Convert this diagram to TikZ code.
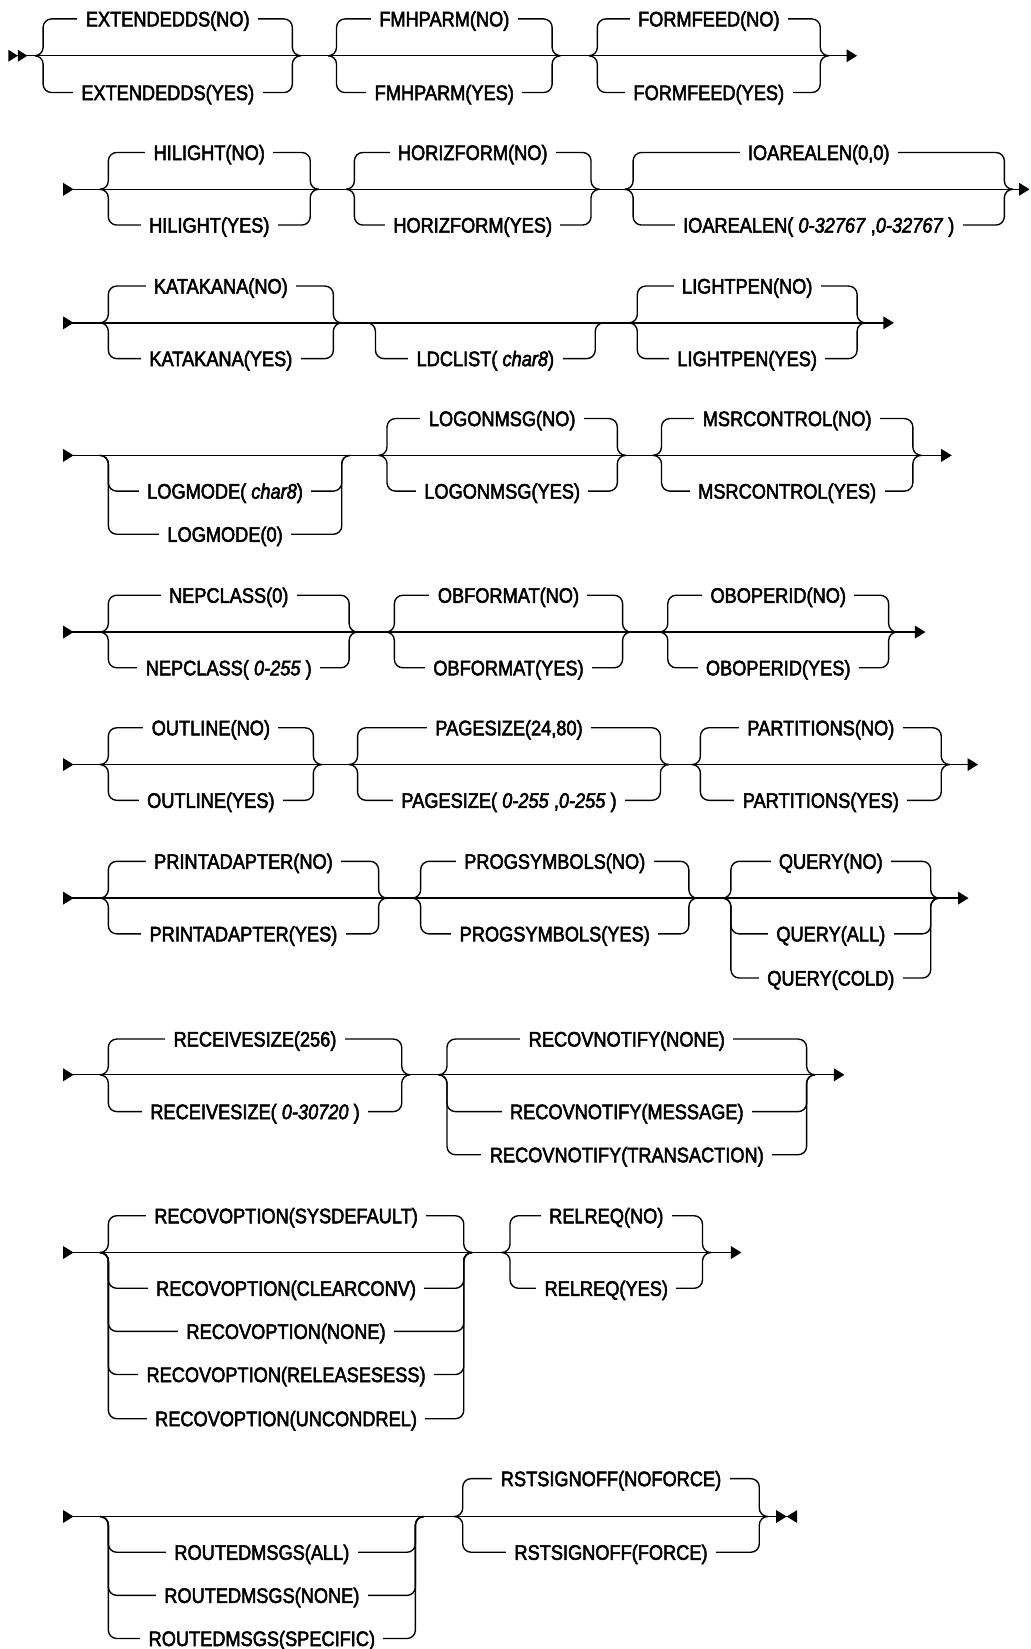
\documentclass[tikz,border=0pt]{standalone}
\usepackage{fontspec}
\setmainfont{Liberation Sans}[FakeStretch=0.865, FakeBold=2.5]
\usetikzlibrary{calc,arrows.meta}

% group: id, left x, right x, main line y
\newcommand{\railgroup}[4]{%
  \coordinate (#1_L) at (#2,#4);
  \coordinate (#1_R) at (#3,#4);
  \coordinate (#1_in) at ({#2-8},#4);
  \coordinate (#1_out) at ({#3+8},#4);
  \coordinate (#1_c) at ({(#2+#3)/2},#4);
}
% option: group id, node name, offset from main line, text
\newcommand{\railopt}[4]{%
  \coordinate (#2_y) at ($(#1_c)+(0,#3)$);
  \draw[rail] (#1_in) -| (#1_L |- #2_y) -- (#1_R |- #2_y) |- (#1_out);
  \node[opt] (#2) at (#2_y) {#4};
}

\begin{document}
\begin{tikzpicture}[
        x=1pt, y=-1pt,
        font=\fontsize{20}{24}\selectfont,
        rail/.style={line width=1.3pt, rounded corners=8pt},
        opt/.style={fill=white, inner xsep=8pt, inner ysep=2pt, text height=14.3pt, text depth=0pt},
        mainline/.style={rail, arrows={{Triangle[reversed,length=10pt,width=12pt]}-{Triangle[length=10pt,width=12pt]}}}
    ]
        \useasboundingbox (0,0) rectangle (980,1568);

        % Row 1
        \coordinate (s1) at (8,53);
        \coordinate (e1) at (815,53);
        \draw[rail, arrows={{Triangle[reversed,length=9pt,width=11pt]Triangle[reversed,length=9pt,width=11pt]}-{Triangle[length=10pt,width=12pt]}}] (s1) -- (e1);
        \railgroup{extdds}{41}{278}{53}
        \railopt{extdds}{extdds_no}{-35}{EXTENDEDDS(NO)}
        \railopt{extdds}{extdds_yes}{35}{EXTENDEDDS(YES)}
        \railgroup{fmhparm}{320}{525}{53}
        \railopt{fmhparm}{fmhparm_no}{-35}{FMHPARM(NO)}
        \railopt{fmhparm}{fmhparm_yes}{35}{FMHPARM(YES)}
        \railgroup{formfeed}{568}{780}{53}
        \railopt{formfeed}{formfeed_no}{-35}{FORMFEED(NO)}
        \railopt{formfeed}{formfeed_yes}{35}{FORMFEED(YES)}

        % Row 2
        \coordinate (s2) at (60,180);
        \coordinate (e2) at (979,180);
        \draw[mainline] (s2) -- (e2);
        \railgroup{hilight}{103}{295}{180}
        \railopt{hilight}{hilight_no}{-35}{HILIGHT(NO)}
        \railopt{hilight}{hilight_yes}{34}{HILIGHT(YES)}
        \railgroup{horizform}{337}{562}{180}
        \railopt{horizform}{horizform_no}{-35}{HORIZFORM(NO)}
        \railopt{horizform}{horizform_yes}{34}{HORIZFORM(YES)}
        \railgroup{ioarealen}{602}{955}{180}
        \railopt{ioarealen}{ioarealen_def}{-35}{IOAREALEN(0,0)}
        \railopt{ioarealen}{ioarealen_val}{34}{IOAREALEN( \textit{0-32767} ,\textit{0-32767} )}

        % Row 3
        \coordinate (s3) at (60,307);
        \coordinate (e3) at (850,307);
        \draw[mainline] (s3) -- (e3);
        \railgroup{katakana}{103}{317}{307}
        \railopt{katakana}{katakana_no}{-35}{KATAKANA(NO)}
        \railopt{katakana}{katakana_yes}{34}{KATAKANA(YES)}
        \railgroup{ldclist}{357}{566}{307}
        \railopt{ldclist}{ldclist_val}{34}{LDCLIST( \textit{char8})}
        \railgroup{lightpen}{606}{815}{307}
        \railopt{lightpen}{lightpen_no}{-35}{LIGHTPEN(NO)}
        \railopt{lightpen}{lightpen_yes}{34}{LIGHTPEN(YES)}

        % Row 4
        \coordinate (s4) at (60,433);
        \coordinate (e4) at (905,433);
        \draw[mainline] (s4) -- (e4);
        \railgroup{logmode}{103}{325}{433}
        \railopt{logmode}{logmode_val}{34}{LOGMODE( \textit{char8})}
        \railopt{logmode}{logmode_zero}{75}{LOGMODE(0)}
        \railgroup{logonmsg}{368}{587}{433}
        \railopt{logonmsg}{logonmsg_no}{-35}{LOGONMSG(NO)}
        \railopt{logonmsg}{logonmsg_yes}{34}{LOGONMSG(YES)}
        \railgroup{msrcontrol}{629}{868}{433}
        \railopt{msrcontrol}{msrcontrol_no}{-35}{MSRCONTROL(NO)}
        \railopt{msrcontrol}{msrcontrol_yes}{34}{MSRCONTROL(YES)}

        % Row 5
        \coordinate (s5) at (60,601);
        \coordinate (e5) at (880,601);
        \draw[mainline] (s5) -- (e5);
        \railgroup{nepclass}{103}{332}{601}
        \railopt{nepclass}{nepclass_def}{-35}{NEPCLASS(0)}
        \railopt{nepclass}{nepclass_val}{34}{NEPCLASS( \textit{0-255} )}
        \railgroup{obformat}{375}{592}{601}
        \railopt{obformat}{obformat_no}{-35}{OBFORMAT(NO)}
        \railopt{obformat}{obformat_yes}{34}{OBFORMAT(YES)}
        \railgroup{oboperid}{635}{845}{601}
        \railopt{oboperid}{oboperid_no}{-35}{OBOPERID(NO)}
        \railopt{oboperid}{oboperid_yes}{34}{OBOPERID(YES)}

        % Row 6
        \coordinate (s6) at (60,727);
        \coordinate (e6) at (930,727);
        \draw[mainline] (s6) -- (e6);
        \railgroup{outline}{103}{298}{727}
        \railopt{outline}{outline_no}{-35}{OUTLINE(NO)}
        \railopt{outline}{outline_yes}{34}{OUTLINE(YES)}
        \railgroup{pagesize}{340}{628}{727}
        \railopt{pagesize}{pagesize_def}{-35}{PAGESIZE(24,80)}
        \railopt{pagesize}{pagesize_val}{34}{PAGESIZE( \textit{0-255} ,\textit{0-255} )}
        \railgroup{partitions}{666}{895}{727}
        \railopt{partitions}{partitions_no}{-35}{PARTITIONS(NO)}
        \railopt{partitions}{partitions_yes}{34}{PARTITIONS(YES)}

        % Row 7
        \coordinate (s7) at (60,854);
        \coordinate (e7) at (921,854);
        \draw[mainline] (s7) -- (e7);
        \railgroup{printadapter}{103}{360}{854}
        \railopt{printadapter}{printadapter_no}{-35}{PRINTADAPTER(NO)}
        \railopt{printadapter}{printadapter_yes}{34}{PRINTADAPTER(YES)}
        \railgroup{progsymbols}{400}{655}{854}
        \railopt{progsymbols}{progsymbols_no}{-35}{PROGSYMBOLS(NO)}
        \railopt{progsymbols}{progsymbols_yes}{34}{PROGSYMBOLS(YES)}
        \railgroup{query}{695}{885}{854}
        \railopt{query}{query_no}{-35}{QUERY(NO)}
        \railopt{query}{query_all}{34}{QUERY(ALL)}
        \railopt{query}{query_cold}{76}{QUERY(COLD)}

        % Row 8
        \coordinate (s8) at (60,1022);
        \coordinate (e8) at (803,1022);
        \draw[mainline] (s8) -- (e8);
        \railgroup{recvsize}{103}{382}{1022}
        \railopt{recvsize}{recvsize_def}{-34}{RECEIVESIZE(256)}
        \railopt{recvsize}{recvsize_val}{35}{RECEIVESIZE( \textit{0-30720} )}
        \railgroup{recovnotify}{425}{767}{1022}
        \railopt{recovnotify}{recovnotify_none}{-34}{RECOVNOTIFY(NONE)}
        \railopt{recovnotify}{recovnotify_msg}{35}{RECOVNOTIFY(MESSAGE)}
        \railopt{recovnotify}{recovnotify_tran}{76}{RECOVNOTIFY(TRANSACTION)}

        % Row 9
        \coordinate (s9) at (60,1191);
        \coordinate (e9) at (705,1191);
        \draw[mainline] (s9) -- (e9);
        \railgroup{recovoption}{103}{441}{1191}
        \railopt{recovoption}{recovoption_sysdef}{-35}{RECOVOPTION(SYSDEFAULT)}
        \railopt{recovoption}{recovoption_clear}{34}{RECOVOPTION(CLEARCONV)}
        \railopt{recovoption}{recovoption_none}{75}{RECOVOPTION(NONE)}
        \railopt{recovoption}{recovoption_rel}{116}{RECOVOPTION(RELEASESESS)}
        \railopt{recovoption}{recovoption_uncond}{158}{RECOVOPTION(UNCONDREL)}
        \railgroup{relreq}{485}{668}{1191}
        \railopt{relreq}{relreq_no}{-35}{RELREQ(NO)}
        \railopt{relreq}{relreq_yes}{34}{RELREQ(YES)}

        % Row 10
        \coordinate (s10) at (60,1442);
        \coordinate (e10) at (758,1442);
        \draw[rail, arrows={{Triangle[reversed,length=10pt,width=12pt]}-{Triangle[length=10pt,width=12pt]Triangle[reversed,length=10pt,width=12pt]}}] (s10) -- (e10);
        \railgroup{routedmsgs}{103}{395}{1442}
        \railopt{routedmsgs}{routedmsgs_all}{34}{ROUTEDMSGS(ALL)}
        \railopt{routedmsgs}{routedmsgs_none}{75}{ROUTEDMSGS(NONE)}
        \railopt{routedmsgs}{routedmsgs_spec}{116}{ROUTEDMSGS(SPECIFIC)}
        \railgroup{rstsignoff}{440}{722}{1442}
        \railopt{rstsignoff}{rstsignoff_nof}{-36}{RSTSIGNOFF(NOFORCE)}
        \railopt{rstsignoff}{rstsignoff_f}{34}{RSTSIGNOFF(FORCE)}

    \end{tikzpicture}
\end{document}
